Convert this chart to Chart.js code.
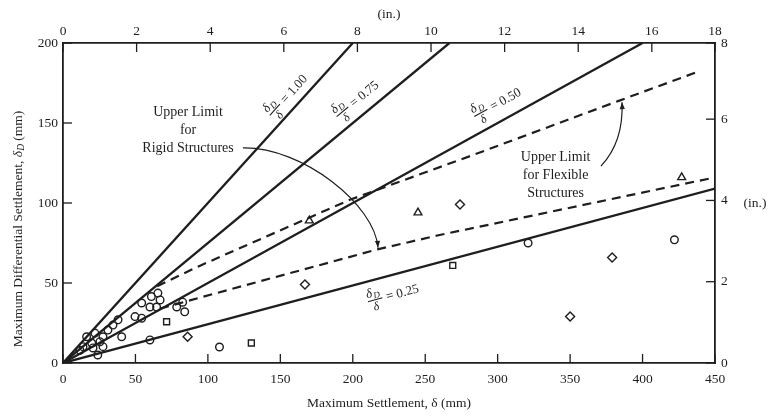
<!DOCTYPE html>
<html>
<head>
<meta charset="utf-8">
<script src="https://cdn.jsdelivr.net/npm/chart.js@4.4.0/dist/chart.umd.min.js"></script>
<style>
  html, body { margin: 0; padding: 0; background: #fff; }
  canvas { display: block; }
</style>
</head>
<body>
<canvas id="myChart" width="768" height="416"></canvas>
<script>
// measured points, settlement in mm
const circleX = [61, 65.5, 67, 60, 64.6, 54.3, 78.5, 84, 82.6, 49.7, 54.3, 38, 34.5, 31, 40.5, 27.6, 22, 16.3, 25.5, 19.8, 27.6, 13.8, 20.7, 24, 11.7, 60, 108, 321, 422]
const circleY = [41.5, 43.7, 39.4, 35, 35, 37.5, 35, 32, 38, 29, 28, 27, 23.7, 20.6, 16.4, 16.4, 18.7, 16.4, 13.3, 12.5, 10.2, 10.2, 9.4, 5, 8, 14.4, 10, 75, 77]
const squareX = [71.5, 130, 269]
const squareY = [25.8, 12.5, 61]
const triangleX = [170, 245, 427]
const triangleY = [89, 94, 116]
const diamondX = [86, 167, 274, 350, 379]
const diamondY = [16.4, 49, 99, 29, 66]

// ratio lines dD/d
const line100X = [0, 200]
const line100Y = [0, 200]
const line075X = [0, 266.7]
const line075Y = [0, 200]
const line050X = [0, 400]
const line050Y = [0, 200]
const line025X = [0, 450]
const line025Y = [0, 109]

// dashed limits
const flexX = [65, 95, 198, 283, 384, 438]
const flexY = [48, 61, 102, 130, 164, 182]
const rigidX = [67, 95, 217, 260, 450]
const rigidY = [34, 41, 71, 80, 116]

// tick labels
const bottomTicks = [0, 50, 100, 150, 200, 250, 300, 350, 400, 450]
const leftTicks = [0, 50, 100, 150, 200]
const topTicks = [0, 2, 4, 6, 8, 10, 12, 14, 16, 18]
const rightTicks = [0, 2, 4, 6, 8]

const ratioLabels = ['1.00', '0.75', '0.50', '0.25']
const ratioLabelX = [155, 203, 300, 228.4]
const ratioLabelY = [167.5, 165, 162.5, 43]

const rigidText = ['Upper Limit', 'for', 'Rigid Structures']
const flexText = ['Upper Limit', 'for Flexible', 'Structures']

const serif = "'Liberation Serif', 'DejaVu Serif', serif"
const ink = '#1e1e1e'

function pts(xs, ys) {
  return xs.map((x, i) => ({x: x, y: ys[i]}))
}

function lineSet(xs, ys, dashed) {
  return {
    data: pts(xs, ys),
    showLine: true,
    borderColor: ink,
    borderWidth: dashed ? 2.2 : 2.3,
    borderDash: dashed ? [9, 6] : [],
    pointRadius: 0,
    fill: false
  }
}

function markerSet(xs, ys, style, r) {
  return {
    data: pts(xs, ys),
    showLine: false,
    pointStyle: style,
    pointRadius: r,
    pointBorderColor: ink,
    pointBackgroundColor: 'rgba(255,255,255,0)',
    pointBorderWidth: 1.4
  }
}

function fixedTicks(list) {
  return function(scale) {
    scale.ticks = list.map(v => ({value: Math.min(v, scale.max)}))
  }
}

// ticks pointing into the plot + notes
const extras = {
  id: 'extras',
  afterDraw(chart) {
    const {ctx, chartArea: a, scales} = chart
    const sx = scales.x, sy = scales.y
    const P = (x, y) => [sx.getPixelForValue(x), sy.getPixelForValue(y)]
    ctx.save()
    ctx.strokeStyle = ink
    ctx.fillStyle = ink
    ctx.lineWidth = 1.3
    const len = 9
    ;['x', 'x2', 'y', 'y2'].forEach(id => {
      const s = scales[id]
      s.ticks.forEach(t => {
        const p = s.getPixelForValue(t.value)
        ctx.beginPath()
        if (id === 'x') { ctx.moveTo(p, a.bottom); ctx.lineTo(p, a.bottom - len) }
        if (id === 'x2') { ctx.moveTo(p, a.top); ctx.lineTo(p, a.top + len) }
        if (id === 'y') { ctx.moveTo(a.left, p); ctx.lineTo(a.left + len, p) }
        if (id === 'y2') { ctx.moveTo(a.right, p); ctx.lineTo(a.right - len, p) }
        ctx.stroke()
      })
    })

    // dD/d = ... labels, rotated along their line
    const ends = [[line100X, line100Y], [line075X, line075Y], [line050X, line050Y], [line025X, line025Y]]
    ratioLabels.forEach((txt, i) => {
      const [xs, ys] = ends[i]
      const p0 = P(xs[0], ys[0]), p1 = P(xs[1], ys[1])
      const ang = Math.atan2(p1[1] - p0[1], p1[0] - p0[0])
      const c = P(ratioLabelX[i], ratioLabelY[i])
      ctx.save()
      ctx.translate(c[0], c[1])
      ctx.rotate(ang)
      ctx.translate(-27, 0)
      ctx.textBaseline = 'alphabetic'
      ctx.textAlign = 'left'
      ctx.font = 'italic 13px ' + serif
      ctx.fillText('\u03b4', 0, -3)
      ctx.font = 'italic 9px ' + serif
      ctx.fillText('D', 7, -1)
      ctx.font = 'italic 12px ' + serif
      ctx.fillText('\u03b4', 4, 11)
      ctx.lineWidth = 1.1
      ctx.beginPath(); ctx.moveTo(0, 0.5); ctx.lineTo(15, 0.5); ctx.stroke()
      ctx.font = '13px ' + serif
      ctx.fillText('= ' + txt, 19, 4.5)
      ctx.restore()
    })

    // limit notes
    ctx.font = '14px ' + serif
    ctx.textAlign = 'center'
    ctx.textBaseline = 'middle'
    const r0 = P(86.3, 156.9)
    rigidText.forEach((t, i) => ctx.fillText(t, r0[0], r0[1] + i * 18))
    const f0 = P(340, 128.75)
    flexText.forEach((t, i) => ctx.fillText(t, f0[0], f0[1] + i * 18))

    function arrow(q) {
      const p = q.map(d => P(d[0], d[1]))
      ctx.lineWidth = 1.2
      ctx.beginPath()
      ctx.moveTo(p[0][0], p[0][1])
      ctx.bezierCurveTo(p[1][0], p[1][1], p[2][0], p[2][1], p[3][0], p[3][1])
      ctx.stroke()
      const ang = Math.atan2(p[3][1] - p[2][1], p[3][0] - p[2][0])
      ctx.save()
      ctx.translate(p[3][0], p[3][1])
      ctx.rotate(ang)
      ctx.beginPath()
      ctx.moveTo(0, 0); ctx.lineTo(-7, -2.6); ctx.lineTo(-7, 2.6); ctx.closePath()
      ctx.fill()
      ctx.restore()
    }
    arrow([[124.2, 134.4], [165.6, 135], [215.3, 98.75], [217.4, 72]])
    arrow([[371.3, 123.1], [383, 134.4], [386.5, 148.75], [385.8, 163]])

    // right axis unit
    ctx.font = '13.5px ' + serif
    ctx.textAlign = 'center'
    ctx.fillText('(in.)', a.right + 40, scales.y2.getPixelForValue(4) + 3)

    // left axis title with subscript
    ctx.save()
    ctx.translate(18, 229)
    ctx.rotate(-Math.PI / 2)
    ctx.textAlign = 'left'
    ctx.textBaseline = 'middle'
    const partA = 'Maximum Differential Settlement, '
    const partC = ' (mm)'
    ctx.font = '13.5px ' + serif
    const wA = ctx.measureText(partA).width
    const wC = ctx.measureText(partC).width
    ctx.font = 'italic 13.5px ' + serif
    const wB = ctx.measureText('\u03b4').width
    ctx.font = 'italic 9.5px ' + serif
    const wD = ctx.measureText('D').width
    let x0 = -(wA + wB + wD + wC) / 2
    ctx.font = '13.5px ' + serif
    ctx.fillText(partA, x0, 0)
    ctx.font = 'italic 13.5px ' + serif
    ctx.fillText('\u03b4', x0 + wA, 0)
    ctx.font = 'italic 9.5px ' + serif
    ctx.fillText('D', x0 + wA + wB, 3.5)
    ctx.font = '13.5px ' + serif
    ctx.fillText(partC, x0 + wA + wB + wD, 0)
    ctx.restore()

    ctx.restore()
  }
}

const tickFont = {family: serif, size: 13.5}
const axisBorder = {display: true, color: ink, width: 1.8}

new Chart(document.getElementById('myChart'), {
  type: 'scatter',
  data: {
    datasets: [
      lineSet(line100X, line100Y, false),
      lineSet(line075X, line075Y, false),
      lineSet(line050X, line050Y, false),
      lineSet(line025X, line025Y, false),
      lineSet(flexX, flexY, true),
      lineSet(rigidX, rigidY, true),
      markerSet(circleX, circleY, 'circle', 3.8),
      markerSet(squareX, squareY, 'rect', 4.2),
      markerSet(triangleX, triangleY, 'triangle', 4.5),
      markerSet(diamondX, diamondY, 'rectRot', 4.5)
    ]
  },
  options: {
    responsive: false,
    devicePixelRatio: 1,
    animation: false,
    layout: {padding: 0},
    plugins: {legend: {display: false}, tooltip: {enabled: false}},
    scales: {
      x: {
        type: 'linear', position: 'bottom', min: 0, max: 450,
        afterBuildTicks: fixedTicks(bottomTicks),
        afterFit: s => { s.height = 53 },
        grid: {display: false, drawTicks: false},
        border: axisBorder,
        ticks: {font: tickFont, color: ink, padding: 8, autoSkip: false, maxRotation: 0},
        title: {display: true, text: 'Maximum Settlement, \u03b4 (mm)', font: tickFont, color: ink, padding: {top: 0, bottom: 4}}
      },
      x2: {
        type: 'linear', position: 'top', min: 0, max: 450 / 25.4,
        afterBuildTicks: fixedTicks(topTicks),
        afterFit: s => { s.height = 43 },
        grid: {display: false, drawTicks: false},
        border: axisBorder,
        ticks: {font: tickFont, color: ink, padding: 3, autoSkip: false, maxRotation: 0,
          callback: (v, i) => topTicks[i]},
        title: {display: true, text: '(in.)', font: tickFont, color: ink, padding: {top: 6, bottom: 0}}
      },
      y: {
        type: 'linear', position: 'left', min: 0, max: 200,
        afterBuildTicks: fixedTicks(leftTicks),
        afterFit: s => { s.width = 63 },
        grid: {display: false, drawTicks: false},
        border: axisBorder,
        ticks: {font: tickFont, color: ink, padding: 5, autoSkip: false}
      },
      y2: {
        type: 'linear', position: 'right', min: 0, max: 200 / 25.4,
        afterBuildTicks: fixedTicks(rightTicks),
        afterFit: s => { s.width = 53 },
        grid: {display: false, drawTicks: false},
        border: axisBorder,
        ticks: {font: tickFont, color: ink, padding: 6, autoSkip: false,
          callback: (v, i) => rightTicks[i]}
      }
    }
  },
  plugins: [extras]
})
</script>
</body>
</html>
